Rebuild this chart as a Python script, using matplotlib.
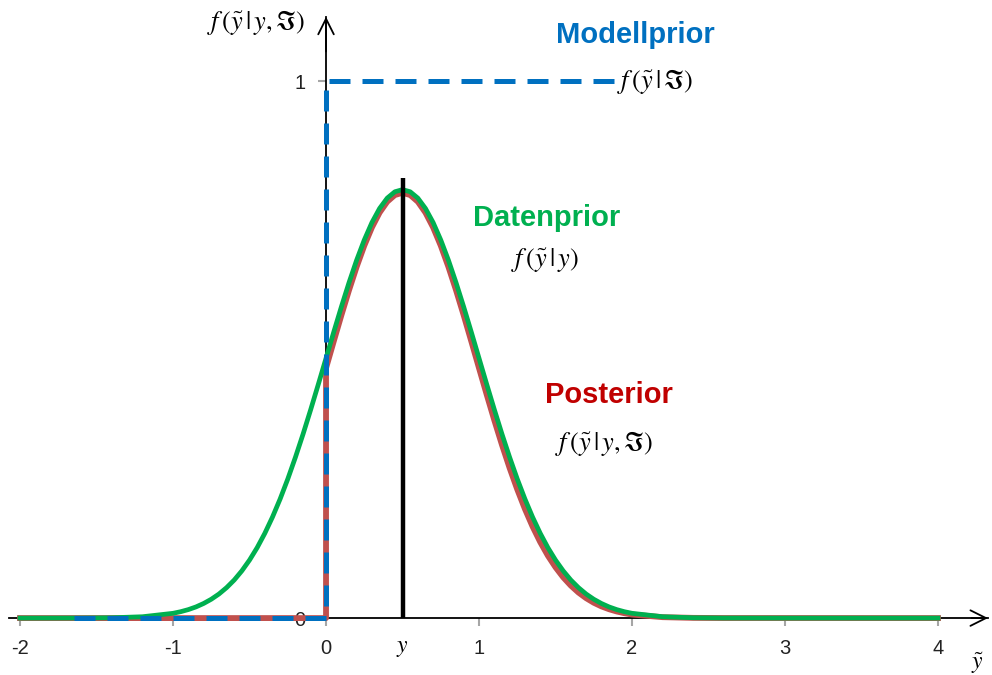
import numpy as np
import matplotlib.pyplot as plt

plt.rcParams['font.family'] = ['Liberation Sans', 'DejaVu Sans']
plt.rcParams['mathtext.fontset'] = 'stix'

daten_x = np.concatenate([
    [-2.0, -1.8, -1.6, -1.4, -1.2],
    np.round(np.arange(-1.0, 2.001, 0.05), 2),
    [2.2, 2.4, 2.6, 3.0, 4.0],
])
daten_y = [
    0, 0.00002, 0.0001, 0.0006, 0.0025,
    0.0089, 0.0119, 0.0158, 0.0208, 0.0272, 0.0351, 0.0448, 0.0567, 0.0709, 0.0880,
    0.1080, 0.1312, 0.1579, 0.1881, 0.2218, 0.2590, 0.2995, 0.3427, 0.3884, 0.4357,
    0.4839, 0.5322, 0.5794, 0.6245, 0.6665, 0.7041, 0.7366, 0.7628, 0.7821, 0.7939,
    0.7979,
    0.7939, 0.7821, 0.7628, 0.7366, 0.7041, 0.6665, 0.6245, 0.5794, 0.5322, 0.4839,
    0.4357, 0.3884, 0.3427, 0.2995, 0.2590, 0.2218, 0.1881, 0.1579, 0.1312, 0.1080,
    0.0880, 0.0709, 0.0567, 0.0448, 0.0351, 0.0272, 0.0208, 0.0158, 0.0119, 0.0089,
    0.0025, 0.0006, 0.0001, 0, 0,
]

# Posterior f(y~|y,I): null links von 0, Sprung bei 0, etwas schmaler als der Datenprior
post_x = np.concatenate([
    [-2.0, 0.0],
    np.round(np.arange(0.0, 2.001, 0.05), 2),
    [2.2, 2.4, 2.6, 4.0],
])
post_y = [
    0, 0,
    0.4655, 0.5150, 0.5637, 0.6104, 0.6541, 0.6935, 0.7275, 0.7550, 0.7754, 0.7878,
    0.7920,
    0.7878, 0.7754, 0.7550, 0.7275, 0.6935, 0.6541, 0.6104, 0.5637, 0.5150, 0.4655,
    0.4164, 0.3684, 0.3226, 0.2795, 0.2396, 0.2032, 0.1705, 0.1416, 0.1163, 0.0946,
    0.0760, 0.0605, 0.0476, 0.0371, 0.0286, 0.0218, 0.0165, 0.0123, 0.0091, 0.0066,
    0.0017, 0.0004, 0.0001, 0,
]

# Modellprior f(y~|I): Stufenfunktion
modell_x = [-1.65, 0, 0, 1.88]
modell_y = [0, 0, 1, 1]

y_obs = 0.5
y_obs_top = 0.82

x_ticks = [-2, -1, 0, 1, 2, 3, 4]
y_ticks = [0, 1]

blau = '#0070C0'
gruen = '#00B050'
rot_kurve = '#C0504D'
rot_text = '#C00000'

fig = plt.figure(figsize=(9.92, 6.75), dpi=100)
ax = fig.add_axes([0, 0, 1, 1])
ax.set_xlim(-2.131, 4.353)
ax.set_ylim(-0.106, 1.151)

# Achsen
for s in ['top', 'right']:
    ax.spines[s].set_visible(False)
ax.spines['left'].set_position(('data', 0))
ax.spines['bottom'].set_position(('data', 0))
ax.spines['left'].set_bounds(0, 1.12)
ax.spines['bottom'].set_bounds(-2.07, 4.33)
ax.spines['left'].set_linewidth(1.3)
ax.spines['bottom'].set_linewidth(1.3)
ax.annotate('', xy=(4.345, 0), xytext=(4.2, 0),
            arrowprops=dict(arrowstyle='->', lw=1.3, color='black', mutation_scale=28))
ax.annotate('', xy=(0, 1.125), xytext=(0, 1.05),
            arrowprops=dict(arrowstyle='->', lw=1.3, color='black', mutation_scale=28))

ax.set_xticks(x_ticks)
ax.set_xticklabels([str(t) for t in x_ticks])
ax.set_yticks(y_ticks)
ax.set_yticklabels([str(t) for t in y_ticks])
ax.tick_params(axis='both', direction='out', length=6, width=1.5, color='#a6a6a6',
               labelsize=14.5, labelcolor='#222222', pad=9)

# Kurven
ax.plot(post_x, post_y, color=rot_kurve, lw=4.2, zorder=3, solid_joinstyle='round')
ax.plot(daten_x, daten_y, color=gruen, lw=3.4, zorder=4, solid_joinstyle='round')
ax.plot(modell_x, modell_y, color=blau, lw=3.6, dashes=(4.2, 2.4), zorder=5)
ax.plot([y_obs, y_obs], [0, y_obs_top], color='black', lw=3.2, zorder=6,
        solid_capstyle='butt')

# Beschriftungen
ax.text(y_obs, -0.055, r'$y$', fontsize=17, ha='center', va='center')
ax.text(4.26, -0.085, r'$\tilde{y}$', fontsize=17, ha='center', va='center')
ax.text(-0.46, 1.11, r'$f\,\left(\tilde{y}\,|\,y,\Im\right)$', fontsize=19,
        ha='center', va='center')

ax.text(2.02, 1.086, 'Modellprior', color=blau, fontsize=21, fontweight='bold',
        ha='center', va='center')
ax.text(2.15, 1.0, r'$f\,\left(\tilde{y}\,|\,\Im\right)$', fontsize=19,
        ha='center', va='center')
ax.text(1.444, 0.745, 'Datenprior', color=gruen, fontsize=21, fontweight='bold',
        ha='center', va='center')
ax.text(1.43, 0.665, r'$f\,\left(\tilde{y}\,|\,y\right)$', fontsize=19,
        ha='center', va='center')
ax.text(1.85, 0.415, 'Posterior', color=rot_text, fontsize=21, fontweight='bold',
        ha='center', va='center')
ax.text(1.82, 0.326, r'$f\,\left(\tilde{y}\,|\,y,\Im\right)$', fontsize=19,
        ha='center', va='center')

fig.savefig('out.png', dpi=100)
